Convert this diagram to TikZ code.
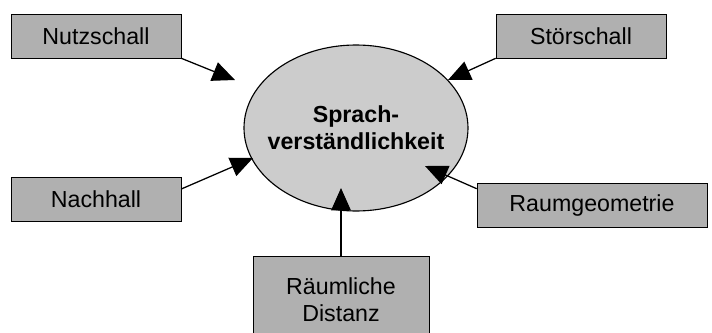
\documentclass[tikz,border=0pt]{standalone}
\usepackage{fontspec}
\setmainfont{Liberation Sans}
\usepackage{tikz}
\usetikzlibrary{arrows.meta,shapes,positioning}
\definecolor{boxgray}{RGB}{176,176,176}
\definecolor{ellgray}{RGB}{204,204,204}
\tikzset{
  factor/.style = {draw, thin, fill=boxgray, align=center, minimum width=4.25cm,
                   minimum height=1.1cm, inner sep=0pt,
                   font=\fontsize{16.5}{19}\selectfont},
  effect/.style = {draw, ellipse, line width=0.8pt, fill=ellgray, align=center,
                   minimum width=5.6cm, minimum height=4.15cm,
                   inner xsep=-0.35cm, inner ysep=0pt,
                   font=\fontsize{16.5}{19}\selectfont\bfseries},
  influence/.style = {-{Triangle[length=16pt,width=14pt]}, line width=0.9pt},
}

\begin{document}
\begin{tikzpicture}
      \useasboundingbox (0,0) rectangle (17.8,8.3);
      %main effect in the middle
      \node[effect] (sv) at (8.9,5.1) {Sprach-\\verständlichkeit};

      \node[factor] (nutz) at (2.4,7.4) {Nutzschall};
      \node[factor] (stoer) at (14.525,7.4) {Störschall};
      \node[factor] (nach) at (2.4,3.325) {Nachhall};
      \node[factor, minimum width=5.75cm] (raum) at (14.8,3.175) {Raumgeometrie};
      \node[factor, minimum width=4.4cm, minimum height=2.2cm] (dist) at (8.525,0.8) {Räumliche\\Distanz};

      %arrow tips
      \coordinate (nutz_tip) at (5.875,6.3);
      \coordinate (stoer_tip) at (11.2,6.3);
      \coordinate (nach_tip) at (6.325,4.35);
      \coordinate (raum_tip) at (10.625,4.15);
      \coordinate (dist_tip) at (8.525,3.6);

      \draw[influence] (nutz.south east) -- (nutz_tip);
      \draw[influence] (stoer.south west) -- (stoer_tip);
      \draw[influence] ([yshift=0.25cm]nach.east) -- (nach_tip);
      \draw[influence] ([yshift=-0.15cm]raum.north west) -- (raum_tip);
      \draw[influence] (dist.north) -- (dist_tip);

  \end{tikzpicture}
\end{document}
